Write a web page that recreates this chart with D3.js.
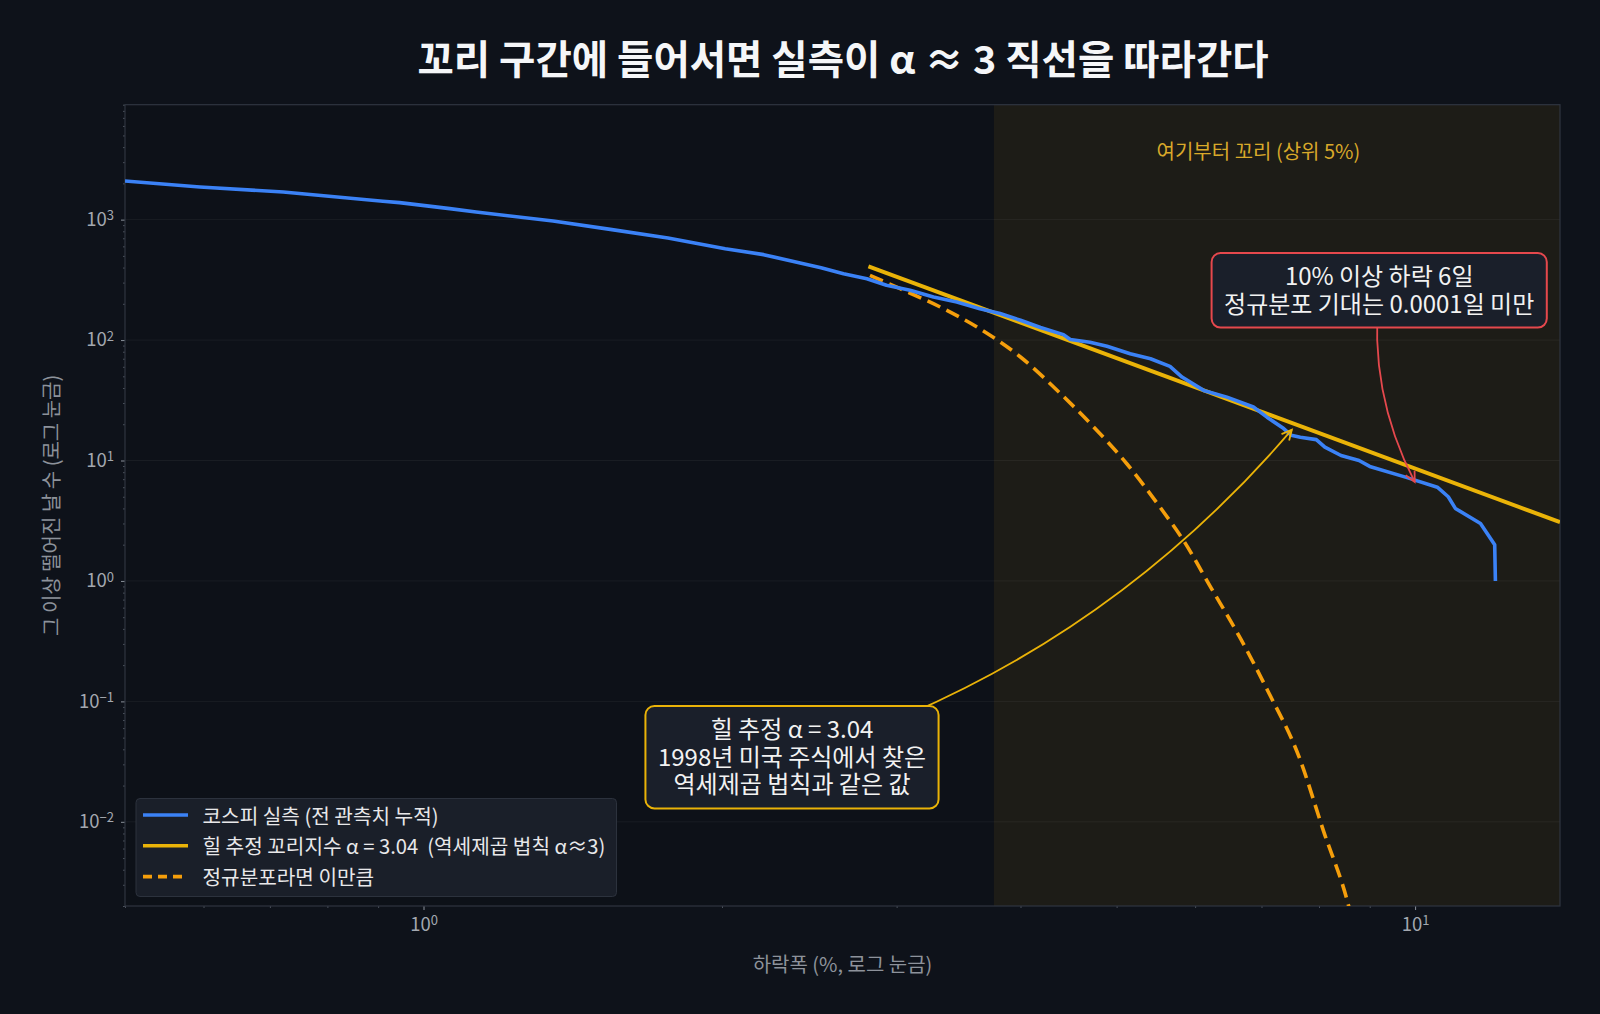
<!DOCTYPE html>
<html>
<head>
<meta charset="utf-8">
<script src="https://cdn.jsdelivr.net/npm/d3@7"></script>
<style>
  body { margin: 0; background: #0e121a; }
  text { font-family: "Noto Sans CJK KR", "Noto Sans", sans-serif; }
</style>
</head>
<body>
<div id="plot"></div>
<script>
// 코스피 하락폭(%)별로 그 이상 떨어진 날 수 - 그림에서 읽은 값
const dropPct = [0.50, 0.595, 0.722, 0.91, 0.946, 1.063, 1.13, 1.351, 1.543, 1.764, 2.015, 2.203, 2.398, 2.517,
  2.652, 2.80, 2.93, 3.095, 3.268, 3.45, 3.64, 3.815, 4.00, 4.19, 4.42, 4.49, 4.70, 4.89, 5.16, 5.41, 5.66,
  5.82, 6.12, 6.46, 6.87, 7.09, 7.37, 7.50, 7.66, 7.95, 8.11, 8.42, 8.78, 9.00, 9.78, 10.53, 10.80, 10.98,
  11.64, 12.03, 12.05];
const daysAtLeast = [2090, 1866, 1695, 1419, 1384, 1234, 1156, 973, 830, 703, 574, 512, 437, 399,
  356, 323, 285, 259, 228, 207, 182, 166, 146, 127, 111, 101, 96, 88.7, 77.1, 70, 60.5,
  49.3, 38.2, 33.6, 27.8, 22.9, 18.4, 16.2, 15.6, 14.9, 12.9, 11.0, 10.0, 8.93, 7.28, 6.0, 5.0, 4.0,
  3.0, 2.0, 1.0];

// 힐 추정 직선 (양 끝)
const hillPct = [2.81, 14];
const hillDays = [409, 3.08];

// 정규분포라면 기대되는 날 수
const normalPct = [2.82, 3.025, 3.32, 3.64, 4.00, 4.39, 4.74, 5.12, 5.53, 5.84, 6.22, 6.67, 7.10, 7.64, 8.08, 8.57, 8.7];
const normalDays = [344, 267, 188, 124, 72.3, 35.9, 19, 9.4, 4.1, 2.17, 0.89, 0.33, 0.123, 0.0344, 0.0085, 0.002, 0.0012];

const tailStart = 3.76;
const xTicks = [1, 10];
const yTicks = [0.01, 0.1, 1, 10, 100, 1000];

const W = 1600, H = 1014;
const box = { left: 125, right: 1560, top: 104.7, bottom: 906 };

const svg = d3.select("#plot").append("svg")
  .attr("width", W).attr("height", H)
  .style("background", "#0e121a");

const x = d3.scaleLog().domain([0.5, 14]).range([box.left, box.right]);
const y = d3.scaleLog().domain([0.002, 9000]).range([box.bottom, box.top]);

// plot background
svg.append("rect")
  .attr("x", box.left).attr("y", box.top)
  .attr("width", box.right - box.left).attr("height", box.bottom - box.top)
  .attr("fill", "#0d1118");

svg.append("clipPath").attr("id", "clip")
  .append("rect")
  .attr("x", box.left).attr("y", box.top)
  .attr("width", box.right - box.left).attr("height", box.bottom - box.top);

// tail shade
svg.append("rect")
  .attr("x", x(tailStart)).attr("y", box.top)
  .attr("width", box.right - x(tailStart)).attr("height", box.bottom - box.top)
  .attr("fill", "#eab308").attr("fill-opacity", 0.075);

// grid
svg.append("g").selectAll("line")
  .data(yTicks)
  .enter().append("line")
  .attr("x1", box.left).attr("x2", box.right)
  .attr("y1", d => y(d)).attr("y2", d => y(d))
  .attr("stroke", "#ffffff").attr("stroke-opacity", 0.05).attr("stroke-width", 1);

// minor ticks
const xMinor = [0.5, 0.6, 0.7, 0.8, 0.9, 2, 3, 4, 5, 6, 7, 8, 9];
const yMinor = [];
for (let k = -3; k <= 3; k++) for (let m = 2; m <= 9; m++) {
  const v = m * Math.pow(10, k);
  if (v >= 0.002 && v <= 9000) yMinor.push(v);
}

svg.append("g")
  .attr("transform", `translate(0, ${box.bottom})`)
  .call(d3.axisBottom(x).tickValues(xMinor).tickSize(2).tickFormat(""))
  .call(g => g.select(".domain").remove())
  .call(g => g.selectAll("line").attr("stroke", "#4b515c"));

svg.append("g")
  .attr("transform", `translate(${box.left}, 0)`)
  .call(d3.axisLeft(y).tickValues(yMinor).tickSize(2).tickFormat(""))
  .call(g => g.select(".domain").remove())
  .call(g => g.selectAll("line").attr("stroke", "#4b515c"));

// major axes with superscript labels
function supLabel(sel) {
  sel.each(function (d) {
    const t = d3.select(this);
    const e = Math.round(Math.log10(d));
    t.text("");
    t.append("tspan").text("10");
    t.append("tspan").attr("dy", "-0.45em").attr("font-size", "13px")
      .text(e < 0 ? "\u2212" + Math.abs(e) : String(e));
  });
}

svg.append("g")
  .attr("transform", `translate(0, ${box.bottom})`)
  .call(d3.axisBottom(x).tickValues(xTicks).tickSize(4).tickPadding(8))
  .call(g => g.select(".domain").remove())
  .call(g => g.selectAll("line").attr("stroke", "#8a909a"))
  .call(g => g.selectAll("text").attr("fill", "#a3a8b0").attr("font-size", "18.5px")
    .call(supLabel));

svg.append("g")
  .attr("transform", `translate(${box.left}, 0)`)
  .call(d3.axisLeft(y).tickValues(yTicks).tickSize(4).tickPadding(7))
  .call(g => g.select(".domain").remove())
  .call(g => g.selectAll("line").attr("stroke", "#8a909a"))
  .call(g => g.selectAll("text").attr("fill", "#a3a8b0").attr("font-size", "18.5px")
    .call(supLabel));

// spines
svg.append("rect")
  .attr("x", box.left).attr("y", box.top)
  .attr("width", box.right - box.left).attr("height", box.bottom - box.top)
  .attr("fill", "none").attr("stroke", "#2f3540").attr("stroke-width", 1.2);

// lines
const plot = svg.append("g").attr("clip-path", "url(#clip)");
const line = d3.line().x(d => x(d[0])).y(d => y(d[1]));

plot.append("path")
  .datum(normalPct.map((v, i) => [v, normalDays[i]]))
  .attr("d", line.curve(d3.curveMonotoneX))
  .attr("fill", "none").attr("stroke", "#f59e0b").attr("stroke-width", 3.6)
  .attr("stroke-dasharray", "14,7");

plot.append("path")
  .datum(hillPct.map((v, i) => [v, hillDays[i]]))
  .attr("d", line.curve(d3.curveLinear))
  .attr("fill", "none").attr("stroke", "#eab308").attr("stroke-width", 4);

plot.append("path")
  .datum(dropPct.map((v, i) => [v, daysAtLeast[i]]))
  .attr("d", line.curve(d3.curveLinear))
  .attr("fill", "none").attr("stroke", "#3b82f6").attr("stroke-width", 3.6)
  .attr("stroke-linejoin", "round");

// tail label
svg.append("text")
  .attr("x", x(6.95)).attr("y", y(3750))
  .attr("text-anchor", "middle").attr("dominant-baseline", "central")
  .attr("font-size", "20px").attr("fill", "#d9a92a")
  .text("여기부터 꼬리 (상위 5%)");

// annotations: curved arrow (arc3-like) + rounded box
function annotate(lines, cx, cy, tx, ty, color, rad) {
  const g = svg.append("g");
  const dx = tx - cx, dy = ty - cy;
  const len = Math.hypot(dx, dy);
  const ux = dx / len, uy = dy / len;
  const ex = tx - ux * 2, ey = ty - uy * 2;
  const qx = (cx + ex) / 2 - rad * dy, qy = (cy + ey) / 2 + rad * dx;
  g.append("path")
    .attr("d", `M${cx},${cy} Q${qx},${qy} ${ex},${ey}`)
    .attr("fill", "none").attr("stroke", color).attr("stroke-width", 1.8);
  // arrow head "->"
  const hx = ex - qx, hy = ey - qy, hl = Math.hypot(hx, hy);
  const ax = hx / hl, ay = hy / hl;
  const L = 10, Wd = 5;
  g.append("path")
    .attr("d", `M${ex - ax * L - ay * Wd},${ey - ay * L + ax * Wd} L${ex},${ey} L${ex - ax * L + ay * Wd},${ey - ay * L - ax * Wd}`)
    .attr("fill", "none").attr("stroke", color).attr("stroke-width", 1.8);

  const lh = 27.8;
  const txt = g.append("text")
    .attr("text-anchor", "middle")
    .attr("font-size", "24px").attr("fill", "#f2f2f2")
    .style("white-space", "pre");
  txt.selectAll("tspan").data(lines).enter().append("tspan")
    .attr("x", cx)
    .attr("y", (d, i) => cy + (i - (lines.length - 1) / 2) * lh + 8.5)
    .text(d => d);
  let wMax = 0;
  txt.selectAll("tspan").each(function () { wMax = Math.max(wMax, this.getComputedTextLength()); });
  const bw = wMax + 25, bh = lines.length * lh + 19;
  g.insert("rect", "text")
    .attr("x", cx - bw / 2).attr("y", cy - bh / 2)
    .attr("width", bw).attr("height", bh).attr("rx", 9)
    .attr("fill", "#1a1f2a").attr("stroke", color).attr("stroke-width", 2);
}

annotate(["힐 추정 α = 3.04", "1998년 미국 주식에서 찾은", "역세제곱 법칙과 같은 값"],
  x(2.353), y(0.0344), x(7.54), y(18.4), "#eab308", 0.145);
annotate(["10% 이상 하락 6일", "정규분포 기대는 0.0001일 미만"],
  x(9.2), y(259), x(10), y(6.4), "#e5484d", 0.15);

// legend
const legendItems = [
  { label: "코스피 실측 (전 관측치 누적)", color: "#3b82f6", dash: null },
  { label: "힐 추정 꼬리지수 α = 3.04  (역세제곱 법칙 α≈3)", color: "#eab308", dash: null },
  { label: "정규분포라면 이만큼", color: "#f59e0b", dash: "9,6" }
];
const lg = svg.append("g");
lg.append("rect")
  .attr("x", 136).attr("y", 798.5).attr("width", 480.5).attr("height", 98)
  .attr("rx", 4).attr("fill", "#1a1f29").attr("stroke", "#2c323d").attr("stroke-width", 1);
legendItems.forEach((d, i) => {
  const ly = 815 + i * 30.8;
  lg.append("line")
    .attr("x1", 143).attr("x2", 188).attr("y1", ly).attr("y2", ly)
    .attr("stroke", d.color).attr("stroke-width", 3.6)
    .attr("stroke-dasharray", d.dash);
  lg.append("text")
    .attr("x", 202.5).attr("y", ly)
    .attr("dominant-baseline", "central")
    .attr("font-size", "20.2px").attr("fill", "#e8e8ea")
    .style("white-space", "pre")
    .text(d.label);
});

// axis titles
svg.append("text")
  .attr("x", (box.left + box.right) / 2).attr("y", 963)
  .attr("text-anchor", "middle").attr("dominant-baseline", "central")
  .attr("font-size", "20px").attr("fill", "#8d929b")
  .text("하락폭 (%, 로그 눈금)");

svg.append("text")
  .attr("transform", `translate(50, ${(box.top + box.bottom) / 2}) rotate(-90)`)
  .attr("text-anchor", "middle").attr("dominant-baseline", "central")
  .attr("font-size", "20px").attr("fill", "#8d929b")
  .text("그 이상 떨어진 날 수 (로그 눈금)");

// title
svg.append("text")
  .attr("x", 843).attr("y", 56.5)
  .attr("text-anchor", "middle").attr("dominant-baseline", "central")
  .attr("font-size", "39.5px").attr("font-weight", "bold").attr("fill", "#f5f6f8")
  .text("꼬리 구간에 들어서면 실측이 α ≈ 3 직선을 따라간다");
</script>
</body>
</html>
